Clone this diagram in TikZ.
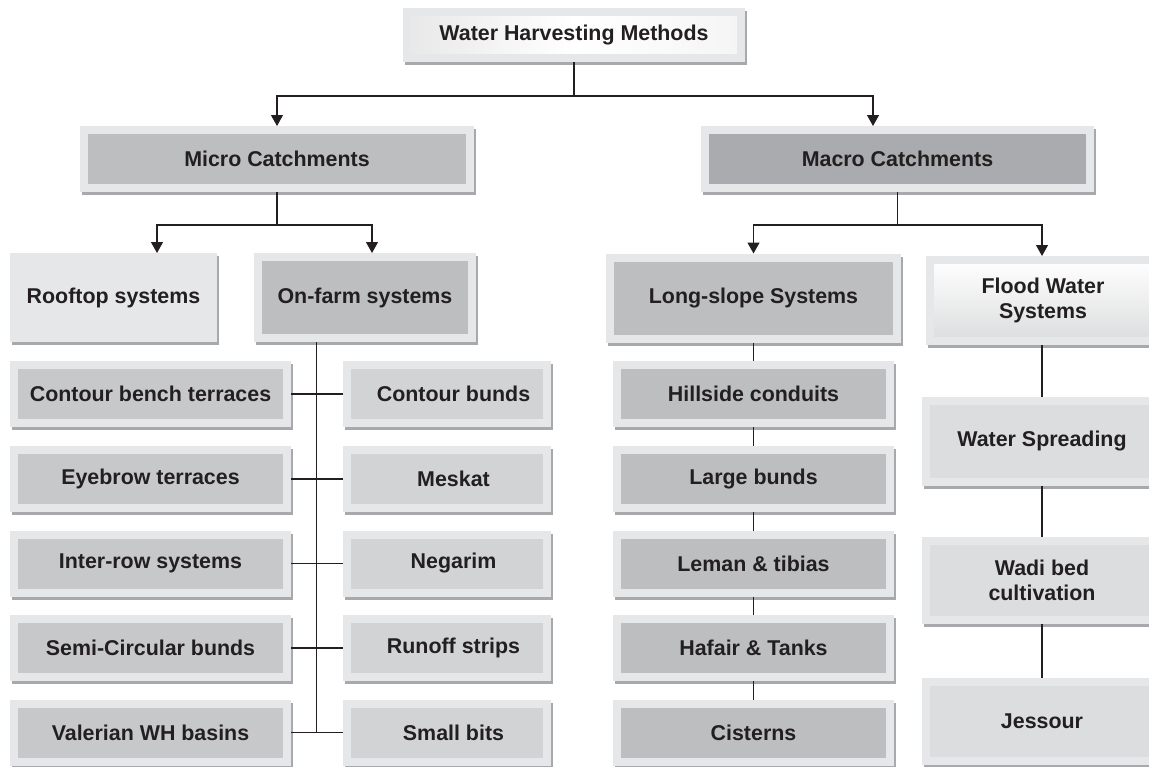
\documentclass[tikz,border=0pt]{standalone}
\usepackage{fontspec}
\setmainfont{Liberation Sans}
\usetikzlibrary{arrows.meta}

\definecolor{boxframe}{HTML}{E6E7E8}
\definecolor{boxshadow}{HTML}{A7A9AC}
\definecolor{boxtext}{HTML}{231F20}
\definecolor{midgray}{HTML}{BCBEC0}
\definecolor{darkgray}{HTML}{A9ABAE}
\definecolor{leftgray}{HTML}{C7C8CA}
\definecolor{rightgray}{HTML}{D1D3D4}
\definecolor{palegray}{HTML}{DCDDDE}

\tikzset{
  box/.style={rectangle, draw=boxframe, line width=4pt, inner sep=0pt, align=center,
    font=\fontsize{10.7}{12.8}\selectfont\bfseries, text=boxtext,
    preaction={draw=boxshadow, line width=4pt, transform canvas={shift={(1pt,-1.5pt)}}}},
  wh/.style 2 args={minimum width=#1*0.5pt-5pt, minimum height=#2*0.5pt-5pt},
  rbox/.style={box, wh={210}{68}, fill=rightgray, execute at begin node={\hspace*{6.5pt}}},
  link/.style={draw=boxtext, line width=0.6pt},
  arr/.style={link, -{Triangle[length=5.5pt,width=6pt]}}
}

\begin{document}
\begin{tikzpicture}[x=0.5pt, y=-0.5pt]
      \def\colL{150.5}
      \def\colR{447}
      \def\colS{753.5}
      \def\colF{1042}

      \useasboundingbox (0,0) rectangle (1149,766);
      \clip (0,0) rectangle (1149,766);

      % Top levels
      \node[box, wh={344}{56}, left color=gray!18, right color=gray!8, middle color=white] (title) at (574,35) {Water Harvesting Methods};
      \node[box, wh={396}{68}, fill=midgray] (micro) at (277,159) {Micro Catchments};
      \node[box, wh={395}{68}, fill=darkgray] (macro) at (897.5,159) {Macro Catchments};

      % Systems
      \node[box, wh={209}{91}, fill=boxframe] (roof) at (113.5,297.5) {Rooftop systems};
      \node[box, wh={224}{91}, fill=midgray] (farm) at (365,297.5) {On-farm systems};
      \node[box, wh={297}{91}, fill=midgray] (slope) at (\colS,298) {Long-slope Systems};
      \node[box, wh={237}{91}, top color=white, bottom color=palegray] (flood) at (1043,300.5) {Flood Water\\Systems};

      % On-farm methods
      \node[box, wh={283}{68}, fill=leftgray] (l1) at (\colL,394) {Contour bench terraces};
      \node[box, wh={283}{68}, fill=leftgray] (l2) at (\colL,479) {Eyebrow terraces};
      \node[box, wh={283}{68}, fill=leftgray] (l3) at (\colL,563.5) {Inter-row systems};
      \node[box, wh={283}{68}, fill=leftgray] (l4) at (\colL,648) {Semi-Circular bunds};
      \node[box, wh={283}{68}, fill=leftgray] (l5) at (\colL,732.5) {Valerian WH basins};
      \node[rbox] (r1) at (\colR,394) {Contour bunds};
      \node[rbox] (r2) at (\colR,479) {Meskat};
      \node[rbox] (r3) at (\colR,563.5) {Negarim};
      \node[rbox] (r4) at (\colR,648) {Runoff strips};
      \node[rbox] (r5) at (\colR,732.5) {Small bits};

      % Long-slope methods
      \node[box, wh={283}{68}, fill=midgray] (s1) at (\colS,394) {Hillside conduits};
      \node[box, wh={283}{68}, fill=midgray] (s2) at (\colS,479) {Large bunds};
      \node[box, wh={283}{68}, fill=midgray] (s3) at (\colS,563.5) {Leman \& tibias};
      \node[box, wh={283}{68}, fill=midgray] (s4) at (\colS,648) {Hafair \& Tanks};
      \node[box, wh={283}{68}, fill=midgray] (s5) at (\colS,732.5) {Cisterns};

      % Flood water methods
      \node[box, wh={242}{91}, fill=palegray] (f1) at (\colF,441.5) {Water Spreading};
      \node[box, wh={242}{89}, fill=palegray] (f2) at (\colF,580.5) {Wadi bed\\cultivation};
      \node[box, wh={242}{89}, fill=palegray] (f3) at (\colF,721.5) {Jessour};

      % Arrows
      \draw[arr] (title.south) -- ++(0,34) -| (micro.north);
      \draw[arr] (title.south) -- ++(0,34) -| ([xshift=-12.25pt]macro.north);
      \draw[arr] (micro.south) -- ++(0,33) -| ([xshift=21.75pt]roof.north);
      \draw[arr] (micro.south) -- ++(0,33) -| ([xshift=3.5pt]farm.north);
      \draw[arr] (macro.south) -- ++(0,33) -| (slope.north);
      \draw[arr] (macro.south) -- ++(0,33) -| ([xshift=-0.5pt]flood.north);

      % Lines
      \draw[link] ([xshift=-24.15pt]farm.south) |- (l5.east);
      \draw[link] (l1.east) -- (r1.west);
      \draw[link] (l2.east) -- (r2.west);
      \draw[link] (l3.east) -- (r3.west);
      \draw[link] (l4.east) -- (r4.west);
      \draw[link] (l5.east) -- (r5.west);
      \draw[link] (slope.south) -- (s1.north);
      \draw[link] (s1.south) -- (s2.north);
      \draw[link] (s2.south) -- (s3.north);
      \draw[link] (s3.south) -- (s4.north);
      \draw[link] (s4.south) -- (s5.north);
      \draw[link] ([xshift=-0.5pt]flood.south) -- (f1.north);
      \draw[link] (f1.south) -- (f2.north);
      \draw[link] (f2.south) -- (f3.north);
    \end{tikzpicture}
\end{document}
